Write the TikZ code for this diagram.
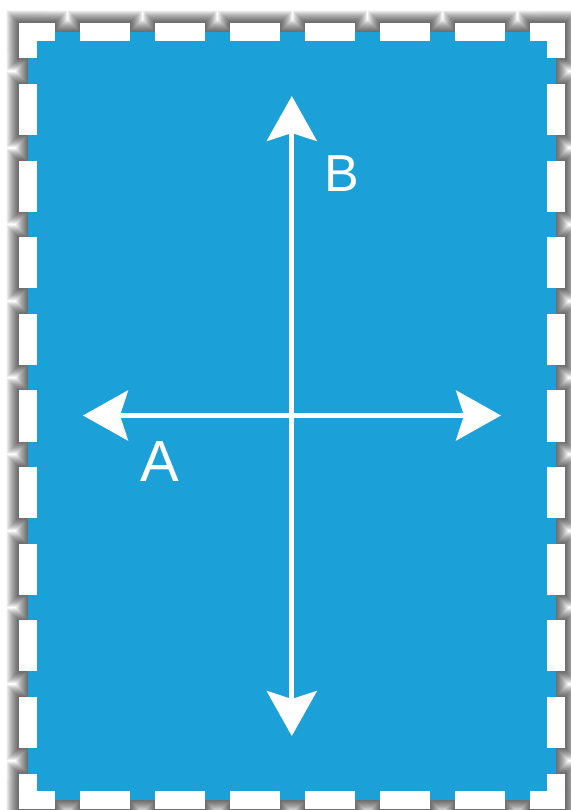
\documentclass[tikz,border=0pt]{standalone}
\usepackage{fontspec}
\setmainfont{Liberation Sans}
\usetikzlibrary{arrows.meta}
\definecolor{bluefill}{RGB}{27,161,216}
\begin{document}
\begin{tikzpicture}[x=1pt,y=-1pt,
  hside/.style={line width=18.6pt, line cap=butt, dash pattern=on 50pt off 25pt, dash phase=13.7pt},
  vside/.style={line width=18.6pt, line cap=butt, dash pattern=on 51.07pt off 25.54pt, dash phase=15.27pt},
  axisline/.style={draw=white, line width=4.8pt,
    {Stealth[length=45pt,width=50pt,inset=8pt]}-{Stealth[length=45pt,width=50pt,inset=8pt]}},
  lbl/.style={text=white, inner sep=0pt, anchor=base}]
\useasboundingbox (0,0) rectangle (570,810);
% shadow of the whole framed panel
\foreach \e in {1,...,12}{
  \pgfmathsetmacro{\hon}{50+2*\e}
  \pgfmathsetmacro{\hoff}{25-2*\e}
  \pgfmathsetmacro{\von}{51.07+2*\e}
  \pgfmathsetmacro{\voff}{25.54-2*\e}
  \pgfmathsetmacro{\lw}{18.6+2*\e}
  \begin{scope}[transparency group, opacity=0.065]
    \fill[black] (28-\e,32-\e) rectangle (556+\e,800+\e);
    \draw[black, line width=\lw pt, line cap=butt, dash pattern=on \hon pt off \hoff pt, dash phase=13.7pt]
      (18.7-\e,32) -- (565.3+\e,32);
    \draw[black, line width=\lw pt, line cap=butt, dash pattern=on \hon pt off \hoff pt, dash phase=13.7pt]
      (18.7-\e,800) -- (565.3+\e,800);
    \draw[black, line width=\lw pt, line cap=butt, dash pattern=on \von pt off \voff pt, dash phase=15.27pt]
      (28,22.7-\e) -- (28,809.3+\e);
    \draw[black, line width=\lw pt, line cap=butt, dash pattern=on \von pt off \voff pt, dash phase=15.27pt]
      (556,22.7-\e) -- (556,809.3+\e);
  \end{scope}
}
% blue panel
\fill[bluefill] (28,32) rectangle (556,800);
% white dashed frame
\draw[white, hside] (18.7,32) -- (565.3,32);
\draw[white, hside] (18.7,800) -- (565.3,800);
\draw[white, vside] (28,22.7) -- (28,809.3);
\draw[white, vside] (556,22.7) -- (556,809.3);
% axes
\coordinate (btop) at (291.8,96);
\coordinate (bbot) at (291.8,736);
\coordinate (aleft) at (83,415.5);
\coordinate (aright) at (501,415.5);
\draw[axisline] (bbot) -- (btop);
\draw[axisline] (aleft) -- (aright);
% labels
\node[lbl, font=\fontsize{52}{52}\selectfont] (labB) at (341.7,191.7) {B};
\node[lbl, font=\fontsize{58}{58}\selectfont] (labA) at (160,481.5) {A};
\end{tikzpicture}
\end{document}
